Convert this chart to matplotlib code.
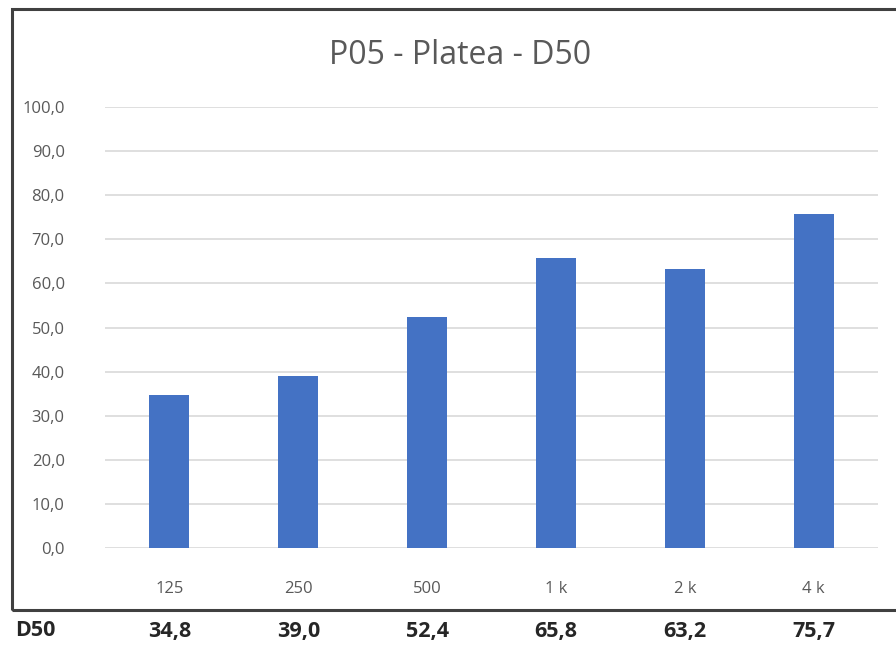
import matplotlib.pyplot as plt
from matplotlib.patches import Rectangle

# octave bands and measured D50 values
bands = ["125", "250", "500", "1 k", "2 k", "4 k"]
d50 = [34.8, 39.0, 52.4, 65.8, 63.2, 75.7]
y_ticks = [0, 10, 20, 30, 40, 50, 60, 70, 80, 90, 100]


def comma(v, digits=1):
    return f"{v:.{digits}f}".replace(".", ",")


plt.rcParams["font.family"] = ["Open Sans", "DejaVu Sans"]

fig = plt.figure(figsize=(8.96, 6.55), dpi=100)
W, H = 896, 655

ax = fig.add_axes([105 / W, 1 - 548 / H, (878 - 105) / W, (548 - 107) / H])
x = range(len(bands))
ax.bar(x, d50, width=0.31, color="#4472C4", zorder=3)

ax.set_ylim(0, 100)
ax.set_xlim(-0.5, len(bands) - 0.5)
ax.set_yticks(y_ticks)
ax.set_yticklabels([comma(v) for v in y_ticks])
ax.set_xticks(list(x))
ax.set_xticklabels(bands)
ax.grid(axis="y", color="#d9d9d9", linewidth=1.2, zorder=0)
for s in ax.spines.values():
    s.set_visible(False)
ax.tick_params(axis="both", length=0, labelsize=12, labelcolor="#595959")
ax.tick_params(axis="y", pad=29)
ax.tick_params(axis="x", pad=24)

fig.text(460 / W, 1 - 55 / H, "P05 - Platea - D50", ha="center", va="center",
         fontsize=23, color="#595959")

# frame around the chart, open on the right
fig.patches.append(Rectangle((12 / W, 1 - 610 / H), 1.0, (610 - 9) / H,
                             transform=fig.transFigure, fill=False,
                             edgecolor="#404040", linewidth=2.2))

# value row under the chart
fig.text(15 / W, 1 - 631 / H, "D50", ha="left", va="center",
         fontsize=15.5, fontweight="bold", color="#262626")
for i, v in enumerate(d50):
    xf = ax.transData.transform((i, 0))[0] / W
    fig.text(xf, 1 - 631 / H, comma(v), ha="center", va="center",
             fontsize=15.5, fontweight="bold", color="#262626")

fig.savefig("out.png", dpi=100, facecolor="white")
